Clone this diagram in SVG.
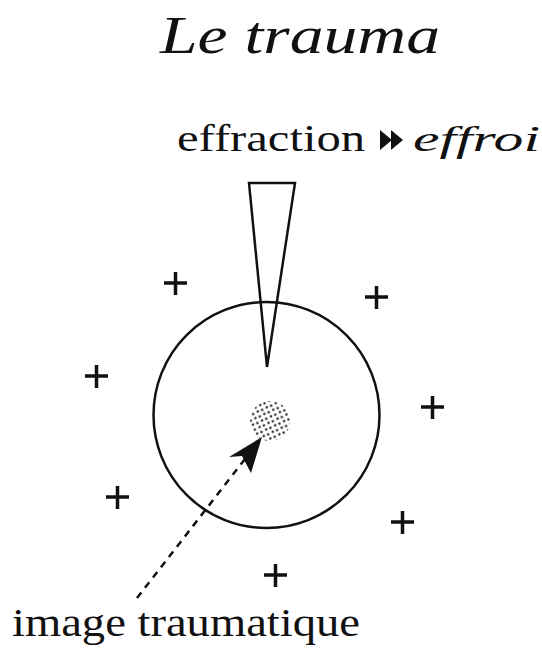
<svg xmlns="http://www.w3.org/2000/svg" width="542" height="655" viewBox="0 0 542 655">
<style>
.t{font-family:"Liberation Serif","DejaVu Serif",serif;fill:#111}
.plus{stroke:#111;stroke-width:3.5;fill:none}
.ln{stroke:#111;stroke-width:2.5;fill:none}
</style>
<defs>
<pattern id="dots" width="7" height="7" patternUnits="userSpaceOnUse" patternTransform="rotate(20)">
<circle cx="1.5" cy="1.5" r="1.2" fill="#222"/>
<circle cx="5" cy="4.5" r="1.2" fill="#222"/>
</pattern>
</defs>
<rect width="542" height="655" fill="#fff"/>
<text class="t" x="160" y="53" font-size="52" font-style="italic" textLength="280" lengthAdjust="spacingAndGlyphs">Le trauma</text>
<text class="t" x="177" y="151" font-size="38" textLength="188" lengthAdjust="spacingAndGlyphs">effraction</text>
<path d="M380,130 L392,140 L380,150 Z M391,130 L403,140 L391,150 Z" fill="#111"/>
<text class="t" x="413" y="151" font-size="36" font-style="italic" textLength="127" lengthAdjust="spacingAndGlyphs">effroi</text>
<g id="circle"><circle class="ln" cx="266.5" cy="415" r="113"/></g>
<g id="wedge"><path class="ln" d="M249,183 L295,183 L267,367 Z" fill="#fff"/></g>
<g id="blob"><circle cx="270" cy="421" r="20" fill="url(#dots)"/></g>
<g id="pluses">
<path class="plus" d="M164,283 H187 M175.5,272 V295"/>
<path class="plus" d="M365,297 H388 M376.5,286 V309"/>
<path class="plus" d="M85,376 H108 M96.5,365 V388"/>
<path class="plus" d="M421,407 H444 M432.5,396 V419"/>
<path class="plus" d="M106,497 H129 M117.5,486 V509"/>
<path class="plus" d="M391,522 H414 M402.5,511 V534"/>
<path class="plus" d="M264,575 H287 M275.5,564 V587"/>
</g>
<g id="connectors">
<path d="M137,598 L259,441" stroke="#111" stroke-width="2.5" stroke-dasharray="7,6" fill="none"/>
<path d="M262,437 L229,457 L242,456 L251,473 Z" fill="#111"/>
</g>
<text class="t" x="12" y="636" font-size="40" textLength="348" lengthAdjust="spacingAndGlyphs">image traumatique</text>
</svg>
